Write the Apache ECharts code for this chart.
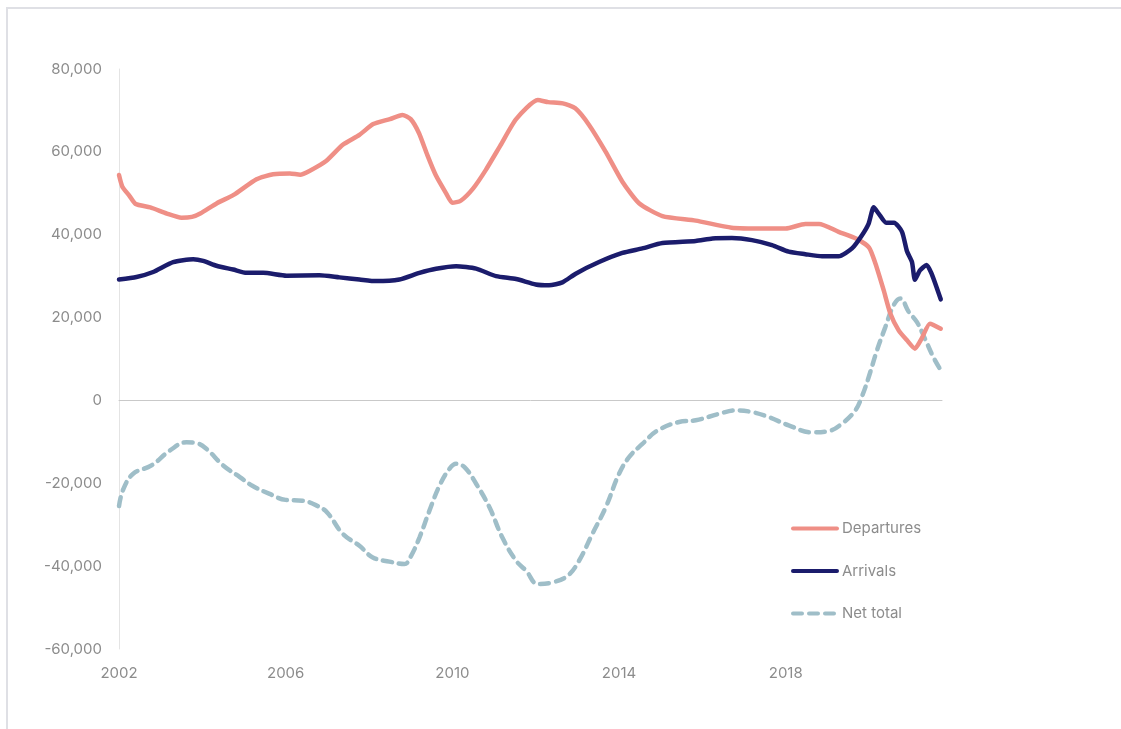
<!DOCTYPE html>
<html>
<head>
<meta charset="utf-8">
<script src="https://cdn.jsdelivr.net/npm/echarts@6/dist/echarts.min.js"></script>
<style>
  html, body { margin: 0; padding: 0; background: #ffffff; overflow: hidden; width: 1121px; height: 729px; }
  #frame {
    position: fixed; left: 6px; top: 7px; right: -20px; bottom: -20px;
    border-top: 2px solid #dfe0e5; border-left: 2px solid #dfe0e5;
  }
  #chart { position: absolute; left: 0; top: 0; width: 1121px; height: 729px; }
</style>
</head>
<body>
<div id="frame"></div>
<div id="chart"></div>
<script>
// Migration flows, rolling annual totals
const departureYears = [2002.0, 2002.08, 2002.25, 2002.4, 2002.75, 2003.15, 2003.5, 2003.75, 2003.95, 2004.35, 2004.75, 2005.3, 2005.7, 2006.1, 2006.35, 2006.57, 2006.97, 2007.37, 2007.77, 2008.1, 2008.5, 2008.8, 2009.0, 2009.2, 2009.4, 2009.6, 2009.85, 2010.0, 2010.2, 2010.5, 2010.8, 2011.15, 2011.53, 2012.05, 2012.3, 2012.65, 2012.95, 2013.28, 2013.68, 2014.08, 2014.48, 2015.04, 2015.84, 2016.7, 2017.5, 2018.0, 2018.47, 2018.8, 2019.27, 2019.7, 2020.0, 2020.15, 2020.35, 2020.51, 2020.71, 2020.91, 2021.1, 2021.26, 2021.46, 2021.72];
const departureValues = [54400, 51600, 49400, 47400, 46600, 45100, 44100, 44300, 45100, 47600, 49600, 53400, 54600, 54800, 54500, 55400, 57800, 61700, 64100, 66700, 67900, 68900, 67900, 64500, 59200, 54400, 50000, 47700, 48200, 51200, 55600, 61500, 67900, 72500, 72000, 71700, 70500, 66500, 60000, 52800, 47600, 44500, 43400, 41700, 41500, 41500, 42600, 42600, 40700, 39000, 36900, 33100, 26600, 21000, 16900, 14500, 12500, 14900, 18500, 17300];

const arrivalYears = [2002.0, 2002.42, 2002.82, 2003.3, 2003.78, 2004.02, 2004.34, 2004.74, 2005.06, 2005.46, 2006.02, 2006.81, 2007.29, 2007.77, 2008.17, 2008.73, 2009.21, 2009.61, 2010.09, 2010.57, 2011.05, 2011.53, 2012.0, 2012.32, 2012.64, 2012.96, 2013.52, 2014.08, 2014.56, 2015.04, 2015.84, 2016.24, 2016.71, 2017.19, 2017.67, 2018.07, 2018.47, 2018.87, 2019.27, 2019.59, 2019.83, 2019.99, 2020.11, 2020.23, 2020.41, 2020.6, 2020.79, 2020.91, 2021.03, 2021.1, 2021.22, 2021.38, 2021.5, 2021.72];
const arrivalValues = [29200, 29800, 31000, 33400, 34100, 33700, 32500, 31600, 30800, 30800, 30100, 30200, 29700, 29200, 28800, 29200, 30800, 31800, 32400, 31800, 30000, 29300, 28000, 27800, 28500, 30600, 33400, 35600, 36700, 38000, 38500, 39100, 39200, 38700, 37500, 35900, 35300, 34800, 34800, 36700, 39900, 42700, 46600, 45100, 42900, 42900, 40700, 36000, 33400, 29100, 31400, 32700, 30600, 24400];

const netYears = [2002.0, 2002.1, 2002.34, 2002.78, 2003.22, 2003.62, 2003.86, 2004.1, 2004.5, 2004.9, 2005.2, 2005.6, 2006.0, 2006.4, 2006.75, 2007.0, 2007.37, 2007.77, 2008.09, 2008.49, 2008.85, 2009.01, 2009.21, 2009.45, 2009.69, 2009.93, 2010.09, 2010.29, 2010.57, 2010.89, 2011.2, 2011.53, 2011.77, 2012.05, 2012.41, 2012.77, 2013.04, 2013.36, 2013.68, 2014.0, 2014.24, 2014.56, 2014.92, 2015.44, 2015.84, 2016.41, 2016.8, 2017.19, 2017.59, 2018.07, 2018.63, 2019.03, 2019.35, 2019.67, 2019.83, 2019.99, 2020.19, 2020.39, 2020.59, 2020.75, 2020.95, 2021.15, 2021.34, 2021.54, 2021.72];
const netValues = [-25500, -21500, -17700, -15700, -12100, -10100, -10300, -11700, -15700, -18500, -20600, -22500, -24000, -24200, -25400, -27100, -32200, -35100, -37900, -38900, -39500, -37500, -33100, -26600, -20600, -16500, -15300, -16100, -20100, -25800, -33100, -38700, -41100, -44300, -43900, -42300, -38700, -32200, -25800, -17700, -13700, -10500, -7300, -5200, -4800, -3200, -2400, -2800, -4000, -6000, -7700, -7400, -5600, -2400, 1000, 5600, 12100, 17700, 23000, 24600, 21400, 18900, 14900, 10500, 7300];

const seriesNames = ['Departures', 'Arrivals', 'Net total'];
const yearTicks = [2002, 2006, 2010, 2014, 2018];

const pairs = (xs, ys) => xs.map((x, i) => [x, ys[i]]);
const FONT = 'Inter, "Noto Sans", sans-serif';
const LABEL = '#8c8c8c';

const chart = echarts.init(document.getElementById('chart'), null, { renderer: 'canvas' });
chart.setOption({
  animation: false,
  backgroundColor: 'transparent',
  grid: { left: 119, right: 179, top: 69, bottom: 80, containLabel: false },
  legend: {
    orient: 'vertical',
    left: 786,
    top: 516,
    itemWidth: 44,
    itemHeight: 14,
    itemGap: 27.5,
    itemStyle: { opacity: 0 },
    lineStyle: { width: 4, cap: 'round' },
    textStyle: { color: LABEL, fontSize: 15, fontFamily: FONT },
    data: seriesNames
  },
  xAxis: {
    type: 'value',
    min: 2002,
    max: 2021.75,
    interval: 4,
    axisLine: { onZero: true, lineStyle: { color: '#c9c9c9', width: 1 } },
    axisTick: { show: false },
    splitLine: { show: false },
    axisLabel: {
      color: LABEL, fontSize: 15, fontFamily: FONT, margin: 17,
      showMaxLabel: false,
      formatter: v => (yearTicks.indexOf(v) >= 0 ? String(v) : '')
    }
  },
  yAxis: {
    type: 'value',
    min: -60000,
    max: 80000,
    interval: 20000,
    axisLine: { show: true, onZero: false, lineStyle: { color: '#e4e4e4', width: 1 } },
    axisTick: { show: false },
    splitLine: { show: false },
    axisLabel: {
      color: LABEL, fontSize: 15, fontFamily: FONT, margin: 17,
      formatter: v => v.toLocaleString('en-US')
    }
  },
  series: [
    {
      name: seriesNames[0], type: 'line', showSymbol: false, symbol: 'none', smooth: 0.2,
      lineStyle: { color: '#ef8f86', width: 4.5, cap: 'round', join: 'round' },
      itemStyle: { color: '#ef8f86' },
      data: pairs(departureYears, departureValues), z: 3
    },
    {
      name: seriesNames[1], type: 'line', showSymbol: false, symbol: 'none', smooth: 0.2,
      lineStyle: { color: '#1b1c6c', width: 4.5, cap: 'round', join: 'round' },
      itemStyle: { color: '#1b1c6c' },
      data: pairs(arrivalYears, arrivalValues), z: 4
    },
    {
      name: seriesNames[2], type: 'line', showSymbol: false, symbol: 'none', smooth: 0.4,
      lineStyle: { color: '#9fbec8', width: 4.5, type: [9, 7], cap: 'round' },
      itemStyle: { color: '#9fbec8' },
      data: pairs(netYears, netValues), z: 2
    }
  ]
});
</script>
</body>
</html>
